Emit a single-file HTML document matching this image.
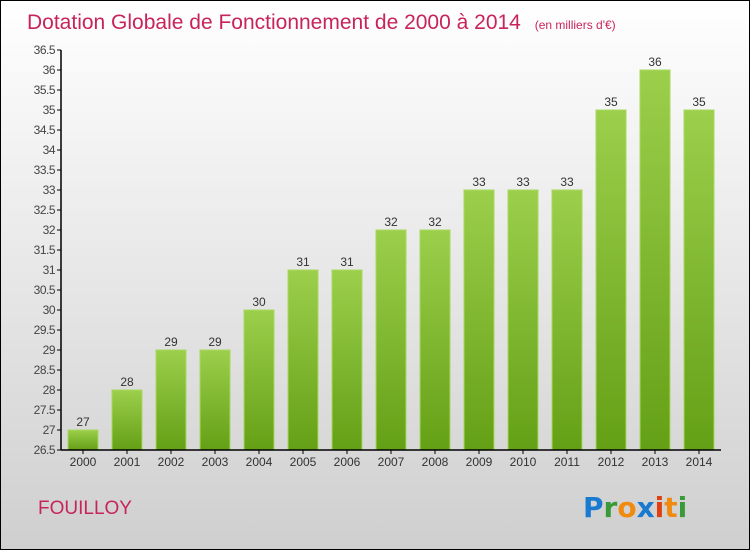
<!DOCTYPE html>
<html><head><meta charset="utf-8"><style>
body{margin:0}
#wrap{position:relative;width:748px;height:548px;border:1px solid #000;background:linear-gradient(#ffffff,#cfcfcf);font-family:"Liberation Sans",sans-serif;overflow:hidden}
</style></head><body>
<div id="wrap">
<svg id="svg" width="748" height="548" xmlns="http://www.w3.org/2000/svg">
<defs><linearGradient id="g" x1="0" y1="0" x2="0" y2="1"><stop offset="0" stop-color="#9ccf4c"/><stop offset="1" stop-color="#64a016"/></linearGradient></defs>
<text x="26" y="28" font-size="21" fill="#c8245c">Dotation Globale de Fonctionnement de 2000 à 2014 <tspan font-size="12" dx="8">(en milliers d'€)</tspan></text>
<text x="37" y="513" font-size="19" fill="#c8245c">FOUILLOY</text>
<g font-size="28" font-weight="bold" font-family="'DejaVu Sans',sans-serif">
<text x="582" y="516"><tspan fill="#1a7ad0">P</tspan><tspan fill="#3a9a3a">r</tspan><tspan fill="#f08a10">o</tspan><tspan fill="#1a7ad0">x</tspan><tspan fill="#e04010">i</tspan><tspan fill="#f08a10">t</tspan><tspan fill="#3a9a3a">i</tspan></text></g>
<g id="plot"></g>
</svg></div>
<script>
const categories=["2000","2001","2002","2003","2004","2005","2006","2007","2008","2009","2010","2011","2012","2013","2014"];
const values=[27,28,29,29,30,31,31,32,32,33,33,33,35,36,35];
const yTicks=["26.5","27","27.5","28","28.5","29","29.5","30","30.5","31","31.5","32","32.5","33","33.5","34","34.5","35","35.5","36","36.5"];
const ns="http://www.w3.org/2000/svg";
const g=document.getElementById('plot');
const x0=60,step=44,yMin=26.5,yMax=36.5,yTop=49,yBot=449;
const y=v=>yBot-(v-yMin)/(yMax-yMin)*(yBot-yTop);
function mk(t,a){const e=document.createElementNS(ns,t);for(const k in a)e.setAttribute(k,a[k]);g.appendChild(e);return e;}
values.forEach((v,i)=>{
 const cx=x0+step*i+22;
 const r=mk('rect',{x:cx-15,y:y(v),width:30,height:yBot-y(v),fill:'url(#g)',stroke:'#a8d860','stroke-width':1});
 
 
 const t=mk('text',{x:cx,y:y(v)-4,'text-anchor':'middle','font-size':12,fill:'#333'});t.textContent=String(v);
 
 
 const l=mk('text',{x:cx,y:yBot+16,'text-anchor':'middle','font-size':12,fill:'#333'});l.textContent=categories[i];
 
 
 mk('line',{x1:cx,x2:cx,y1:yBot,y2:yBot+4,stroke:'#000'});
});
yTicks.forEach(s=>{
 const v=parseFloat(s),yy=y(v);
 mk('line',{x1:x0-4,x2:x0,y1:yy,y2:yy,stroke:'#000'});
 const t=mk('text',{x:x0-6,y:yy+4,'text-anchor':'end','font-size':12,fill:'#444','letter-spacing':'-0.5'});t.textContent=s;
 
 
});
const ax=mk('line',{x1:x0,x2:x0,y1:yTop,y2:yBot,stroke:'#000','stroke-width':1.5});


const bx=mk('line',{x1:x0,x2:x0+step*15,y1:yBot,y2:yBot,stroke:'#000','stroke-width':1.5});


</script>
</body></html>
